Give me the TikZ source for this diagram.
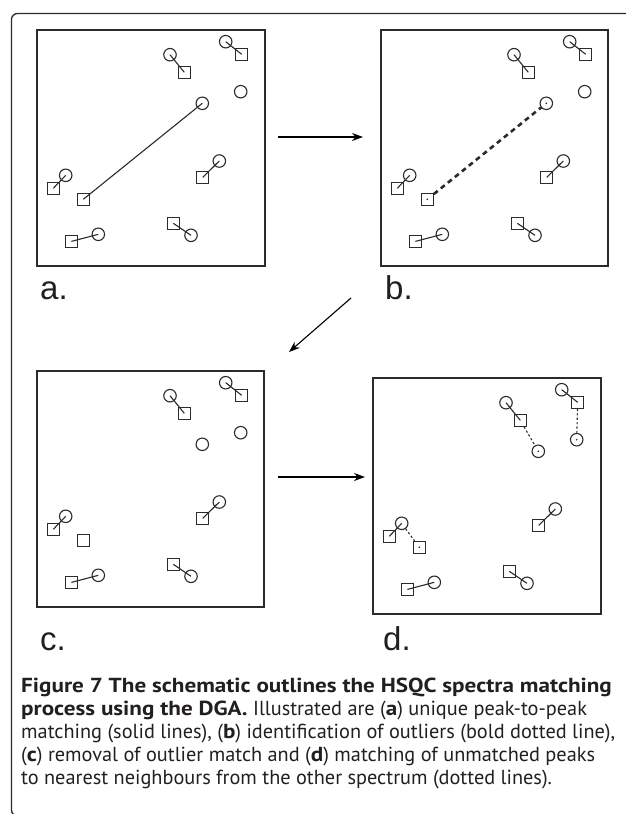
\documentclass[tikz,border=0pt]{standalone}
\usepackage{fontspec}
\setmainfont{PT Sans}[BoldFeatures={FakeStretch=1.14}]
\newfontfamily\labelfont{Liberation Sans}
\usetikzlibrary{arrows.meta}
\definecolor{ink}{HTML}{2B2B2B}
\definecolor{captionink}{HTML}{231F20}
\tikzset{
  peak/.style={circle, draw=ink, line width=1.1pt, minimum size=12.5pt, inner sep=0pt},
  peaksq/.style={rectangle, draw=ink, line width=1.1pt, minimum size=12pt, inner sep=0pt},
  matchline/.style={draw=ink, line width=1.1pt},
  outlierline/.style={draw=ink, line width=2.6pt, dash pattern=on 5pt off 4pt},
  nearestline/.style={draw=ink, line width=1.1pt, dash pattern=on 2.2pt off 2.2pt},
  panelbox/.style={draw=ink, line width=1.3pt},
  framebox/.style={draw=ink, line width=1.3pt, rounded corners=6pt},
  steparrow/.style={draw=black, line width=1.1pt, -{Stealth[length=11pt,width=8pt]}},
  panellabel/.style={anchor=base west, inner sep=0pt, font=\labelfont\fontsize{33}{33}\selectfont, text=captionink},
}
% peaks of both spectra, with prefix #1 for the node names
\newcommand\spectrumpeaks[1]{%
  \node[peak]   (#1c1) at (170,54.7)   {};
  \node[peaksq] (#1s1) at (184.3,72.3) {};
  \node[peak]   (#1c2) at (225.7,41.7) {};
  \node[peaksq] (#1s2) at (241.7,54.3) {};
  \node[peak]   (#1c3) at (240.7,91.7) {};
  \node[peak]   (#1c4) at (202.3,103.3) {};
  \node[peaksq] (#1s4) at (83.3,199.3) {};
  \node[peak]   (#1c5) at (65.7,175.3) {};
  \node[peaksq] (#1s5) at (53.3,188.3) {};
  \node[peak]   (#1c6) at (219.3,161)  {};
  \node[peaksq] (#1s6) at (202.7,177.4) {};
  \node[peak]   (#1c7) at (98.3,234.3) {};
  \node[peaksq] (#1s7) at (71.4,241.4) {};
  \node[peak]   (#1c8) at (191,235.3)  {};
  \node[peaksq] (#1s8) at (173.3,223.3) {};
  \foreach \k in {1,2,5,6,7,8}{
    \draw[matchline] (#1c\k.center) -- (#1s\k.center);
  }
}
\newcommand\centerdot[1]{\fill[ink] (#1) circle (0.9pt);}
\begin{document}
\begin{tikzpicture}[x=1pt,y=-1pt]
\useasboundingbox (0,0) rectangle (625,814);
\fill[white] (0,0) rectangle (625,814);
\draw[framebox] (11.5,13.5) rectangle (640,816);

% (a) unique peak-to-peak matching
\draw[panelbox] (37,30) rectangle (265,266);
\spectrumpeaks{a}
\draw[matchline] (ac4.center) -- (as4.center);
\node[panellabel] (la) at (40,299) {a.};

% (b) the outlier match
\begin{scope}[shift={(344,0)}]
  \draw[panelbox] (37,30) rectangle (264,266);
  \spectrumpeaks{b}
  \draw[outlierline] (bs4) -- (bc4);
  \centerdot{bc4}
  \centerdot{bs4}
  \node[panellabel] (lb) at (41,299) {b.};
\end{scope}

% (c) outlier match removed
\begin{scope}[shift={(0,341)}]
  \draw[panelbox] (37,30) rectangle (264,266);
  \spectrumpeaks{c}
  \node[panellabel] (lc) at (40,309) {c.};
\end{scope}

% (d) unmatched peaks joined to nearest neighbours
\begin{scope}[shift={(336,348)}]
  \draw[panelbox] (37,30) rectangle (265,266);
  \spectrumpeaks{d}
  \draw[nearestline] (ds1) -- (dc4);
  \draw[nearestline] (ds2) -- (dc3);
  \draw[nearestline] (dc5) -- (ds4);
  \centerdot{dc4}
  \centerdot{dc3}
  \centerdot{ds4}
  \node[panellabel] (ld) at (47,302) {d.};
\end{scope}

% steps between the panels
\coordinate (abfrom) at (278,137);
\coordinate (abto)   at (363,137);
\coordinate (bcfrom) at (351,298);
\coordinate (bcto)   at (289,352);
\coordinate (cdfrom) at (278,477);
\coordinate (cdto)   at (365,477);
\draw[steparrow] (abfrom) -- (abto);
\draw[steparrow] (bcfrom) -- (bcto);
\draw[steparrow] (cdfrom) -- (cdto);

% caption (the node's base is the baseline of its last line)
\node[anchor=base west, inner sep=0pt, align=left, text=captionink,
      font=\fontsize{20.3}{22.8}\selectfont] (caption) at (21,784)
  {\textbf{Figure 7 The schematic outlines the HSQC spectra matching}\\
   \textbf{process using the DGA.} Illustrated are (\textbf{a}) unique peak-to-peak\\
   matching (solid lines), (\textbf{b}) identification of outliers (bold dotted line),\\
   (\textbf{c}) removal of outlier match and (\textbf{d}) matching of unmatched peaks\\
   to nearest neighbours from the other spectrum (dotted lines).};
\end{tikzpicture}
\end{document}
